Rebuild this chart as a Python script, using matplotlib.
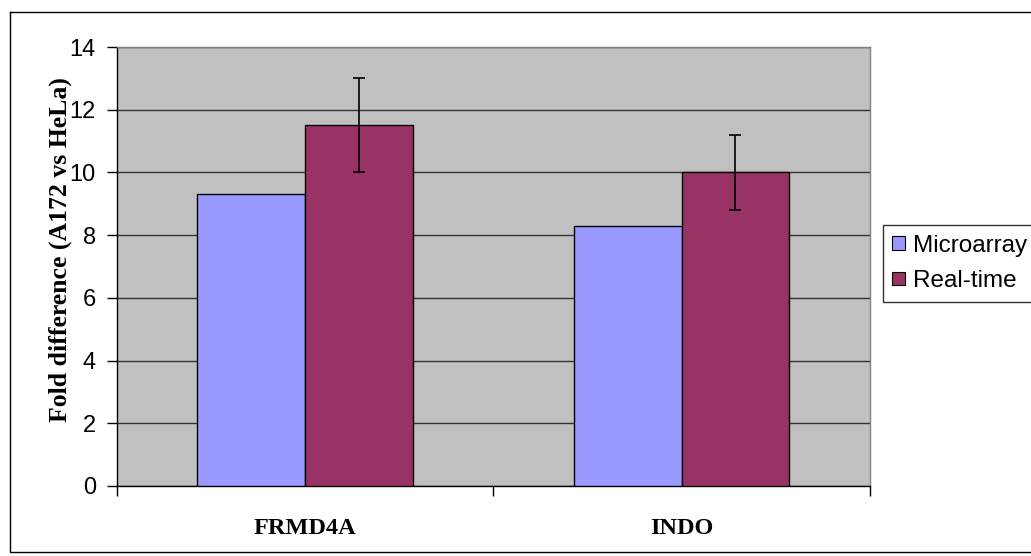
import matplotlib
matplotlib.use("Agg")
import matplotlib.pyplot as plt
from matplotlib.patches import Patch
from matplotlib.lines import Line2D
import numpy as np

categories = ["FRMD4A", "INDO"]
series_names = ["Microarray", "Real-time"]
microarray = [9.3, 8.3]
realtime = [11.5, 10.0]
realtime_err = [1.5, 1.2]
yticks = [0, 2, 4, 6, 8, 10, 12, 14]

colors = ["#9999FF", "#993366"]

W, H = 1031, 556
fig = plt.figure(figsize=(W / 100, H / 100), dpi=100)

# outer chart border
fig.add_artist(Line2D([10 / W, 10 / W, 1.01], [1 - 12 / H, 1 - 552 / H, 1 - 552 / H],
                      transform=fig.transFigure, color="black", lw=1.0))
fig.add_artist(Line2D([10 / W, 1.01], [1 - 12 / H, 1 - 12 / H],
                      transform=fig.transFigure, color="black", lw=1.0))

left, right, top, bottom = 116.7, 870, 47, 486
ax = fig.add_axes([left / W, 1 - bottom / H, (right - left) / W, (bottom - top) / H])
ax.set_facecolor("#C0C0C0")

x = np.arange(len(categories))
bw = 1 / 3.5
ax.bar(x - bw / 2, microarray, bw, color=colors[0], edgecolor="black", linewidth=1.0, zorder=3)
ax.bar(x + bw / 2, realtime, bw, color=colors[1], edgecolor="black", linewidth=1.0, zorder=3)
ax.errorbar(x + bw / 2, realtime, yerr=realtime_err, fmt="none", ecolor="black",
            elinewidth=1.2, capsize=4, capthick=1.2, zorder=4)

ax.set_xlim(-0.5, 1.5)
ax.set_ylim(0, 14)
ax.set_yticks(yticks)
ax.set_yticklabels([str(v) for v in yticks], fontsize=17, family="Liberation Sans")
ax.yaxis.grid(True, color="#333333", linewidth=1.0, zorder=1)
ax.set_axisbelow(True)

ax.set_xticks([-0.5, 0.5, 1.5])
ax.set_xticklabels([])
ax.tick_params(axis="both", direction="out", length=7, width=1.0, color="black")
ax.tick_params(axis="y", pad=8)

for xi, name in zip(x, categories):
    ax.text(xi, -0.0957, name, transform=ax.get_xaxis_transform(), ha="center", va="center",
            fontsize=17.5, fontweight="bold", family="Liberation Serif")

for s in ["top", "right"]:
    ax.spines[s].set_color("#808080")
    ax.spines[s].set_linewidth(1.0)
for s in ["left", "bottom"]:
    ax.spines[s].set_color("black")
    ax.spines[s].set_linewidth(1.0)

fig.text(60 / W, 1 - 250 / H, "Fold difference (A172 vs HeLa)", rotation=90,
         ha="center", va="center", fontsize=18.5, fontweight="bold", family="Liberation Serif")

handles = [Patch(facecolor=colors[i], edgecolor="black", linewidth=0.8) for i in range(2)]
leg = fig.legend(handles, series_names, loc="upper left",
                 bbox_to_anchor=(882.7 / W, 1 - 225 / H), bbox_transform=fig.transFigure,
                 prop={"family": "Liberation Sans", "size": 17.5}, frameon=True, fancybox=False,
                 handlelength=0.5, handleheight=0.5, handletextpad=0.35, labelspacing=0.55,
                 borderpad=0.4, borderaxespad=0)
leg.get_frame().set_edgecolor("black")
leg.get_frame().set_linewidth(1.0)

fig.savefig("out.png", dpi=100)
